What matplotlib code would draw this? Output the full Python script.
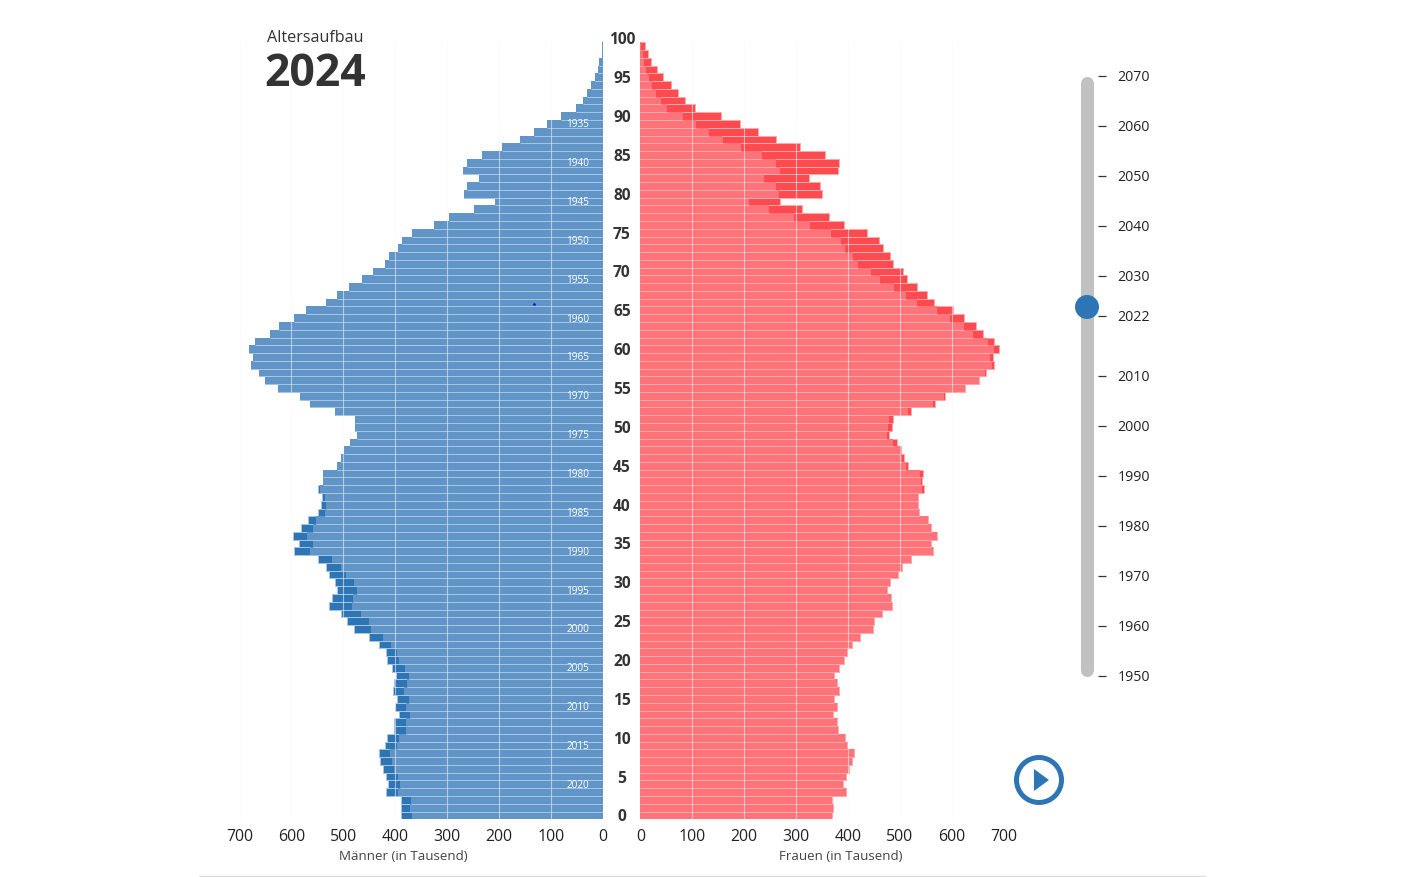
import numpy as np
import matplotlib
matplotlib.use("Agg")
import matplotlib.pyplot as plt
from matplotlib.patches import Circle, Polygon

plt.rcParams['font.family'] = ['Open Sans', 'DejaVu Sans']

W, H = 1403, 877

# age 99 first, age 0 last
ages = list(range(99, -1, -1))

# lighter front layer
men_light = [1, 2, 6.5, 10, 15, 22, 30, 38, 51, 80,
             107, 132, 159, 195, 233, 261, 269, 238, 261, 267,
             207, 249, 296, 326, 367, 387, 394, 412, 419, 443,
             464, 489, 512, 533, 572, 596, 624, 641, 670, 682,
             675, 678, 663, 651, 626, 583, 565, 516, 478, 477,
             474, 487, 499, 505, 513, 540, 540, 545, 535, 534,
             536, 552, 559, 571, 559, 565, 522, 504, 495, 480,
             474, 482, 484, 466, 450, 447, 423, 408, 397, 392,
             381, 373, 378, 383, 373, 379, 371, 379, 380, 392,
             397, 411, 407, 403, 395, 390, 395, 369, 371, 368]
# darker back layer
men_dark = [1, 2, 6.5, 10, 15, 22, 30, 38, 51, 80,
            107, 132, 159, 195, 233, 261, 269, 238, 261, 267,
            207, 249, 296, 326, 367, 387, 394, 412, 419, 443,
            464, 489, 512, 533, 572, 596, 624, 641, 670, 682,
            675, 678, 663, 651, 626, 583, 565, 516, 478, 477,
            474, 487, 499, 505, 513, 540, 540, 548, 541, 543,
            548, 568, 582, 597, 585, 596, 549, 533, 528, 516,
            512, 521, 527, 505, 493, 479, 450, 431, 417, 416,
            406, 398, 403, 405, 396, 401, 392, 402, 402, 416,
            420, 432, 429, 424, 417, 413, 417, 389, 389, 388]
women_light = [1, 4.5, 7, 11, 17, 23, 30, 39, 51, 82,
               107, 132, 160, 194, 234, 261, 270, 239, 261, 268,
               209, 249, 297, 327, 367, 386, 395, 411, 420, 444,
               463, 490, 513, 534, 572, 597, 624, 642, 671, 682,
               675, 678, 664, 653, 626, 585, 565, 517, 479, 477,
               475, 488, 501, 504, 513, 540, 541, 544, 536, 535,
               537, 554, 560, 572, 560, 565, 522, 505, 496, 481,
               475, 483, 485, 466, 451, 448, 424, 409, 398, 393,
               383, 374, 379, 384, 374, 380, 372, 380, 381, 394,
               398, 412, 408, 403, 396, 391, 396, 370, 371, 369]
women_dark = [10, 15, 21, 32, 44, 60, 73, 87, 105, 155,
              193, 227, 262, 307, 356, 383, 382, 325, 346, 351,
              270, 311, 364, 392, 438, 461, 467, 482, 487, 506,
              515, 533, 552, 567, 603, 624, 648, 660, 682, 691,
              679, 682, 667, 653, 626, 588, 569, 522, 487, 485,
              479, 494, 503, 509, 517, 545, 543, 546, 536, 535,
              537, 554, 560, 572, 560, 565, 522, 505, 496, 481,
              475, 483, 485, 466, 451, 448, 424, 409, 398, 393,
              383, 374, 379, 384, 374, 380, 372, 380, 381, 394,
              398, 412, 408, 403, 396, 391, 396, 370, 371, 369]

age_labels = list(range(0, 101, 5))
birth_years = list(range(1935, 2021, 5))
grid_ticks = [100, 200, 300, 400, 500, 600, 700]
x_ticks = [0, 100, 200, 300, 400, 500, 600, 700]
slider_years = [1950, 1960, 1970, 1980, 1990, 2000, 2010, 2022, 2030, 2040, 2050, 2060, 2070]
current_year = 2024

BLUE_LIGHT = '#6195c8'
BLUE_DARK = '#2e75b6'
BLUE_EDGE = '#a6c3e0'
RED_LIGHT = '#ff737a'
RED_DARK = '#ff4b50'
RED_EDGE = '#ffa9ac'
TEXT = '#333333'


def px_axes(left, top, right, bottom):
    return fig.add_axes([left / W, 1 - bottom / H, (right - left) / W, (bottom - top) / H])


def pyramid(ax, dark, light, c_dark, c_light, c_edge, xlim):
    ax.barh(ages, dark, height=1, color=c_dark, edgecolor=c_edge, linewidth=0.72)
    ax.barh(ages, light, height=1, color=c_light, linewidth=0)
    # row separators across the light part, no pale line where it ends
    seps = ax.hlines([a - 0.5 for a in ages], 0, light, color=c_edge, lw=0.72, zorder=2.5)
    seps.set_snap(True)
    ax.set_xlim(*xlim)
    ax.set_ylim(-0.5, 99.5)
    for t in grid_ticks:
        ax.axvline(t, color='#f8f8f8', alpha=0.55, lw=0.8, zorder=3)
    for s in ax.spines.values():
        s.set_visible(False)
    ax.patch.set_alpha(0)
    ax.set_yticks([])
    ax.set_xticks(x_ticks)
    ax.tick_params(axis='x', length=0, pad=7, labelsize=11.4, labelcolor='#222222')


fig = plt.figure(figsize=(W / 100, H / 100), dpi=100, facecolor='white')

ax_m = px_axes(239.6, 42.3, 602.7, 819.3)
pyramid(ax_m, men_dark, men_light, BLUE_DARK, BLUE_LIGHT, BLUE_EDGE, (700, 0))
ax_f = px_axes(640.3, 42.3, 1003.4, 819.3)
pyramid(ax_f, women_dark, women_light, RED_DARK, RED_LIGHT, RED_EDGE, (0, 700))

# age labels sit in the gap between both sides
for a in age_labels:
    ax_m.text(-37, a - 0.25, str(a), ha='center', va='center', fontsize=11.2,
              fontweight='bold', color=TEXT, clip_on=False)
for y in birth_years:
    ax_m.text(48, current_year - y - 0.12, str(y), ha='center', va='center', fontsize=7.2,
              color='white', zorder=4)
ax_m.plot([132], [65.8], 'o', ms=1.8, color='#0000dd', mew=0, zorder=5)

fig.text(403 / W, 1 - 856 / H, 'Männer (in Tausend)', ha='center', va='center', fontsize=9.6, color='#444444')
fig.text(841 / W, 1 - 856 / H, 'Frauen (in Tausend)', ha='center', va='center', fontsize=9.6, color='#444444')
fig.text(315 / W, 1 - 38.5 / H, 'Altersaufbau', ha='center', va='center', fontsize=11.6, color=TEXT)
fig.text(315 / W, 1 - 74.5 / H, str(current_year), ha='center', va='center', fontsize=32, fontweight='bold', color=TEXT)

# year slider
ax_s = px_axes(1060, 76, 1160, 676)
ax_s.set_ylim(1950, 2070)
ax_s.set_xlim(1060, 1160)
ax_s.axis('off')
per_year = 600 / 120
ax_s.plot([1087, 1087], [1950 + 6.5 / per_year, 2070 - 6.5 / per_year], color='#c1c1c1',
          lw=9.4, solid_capstyle='round', clip_on=False)
for y in slider_years:
    ax_s.plot([1098, 1106], [y, y], color='#333333', lw=0.9, clip_on=False, solid_capstyle='butt')
    ax_s.text(1117.5, y - 0.35, str(y), ha='left', va='center', fontsize=10.2, color='#222222', clip_on=False)

# full figure layer in pixels for thumb, play button and rule
ax_o = fig.add_axes([0, 0, 1, 1])
ax_o.set_xlim(0, W)
ax_o.set_ylim(H, 0)
ax_o.axis('off')
ax_o.patch.set_alpha(0)
thumb_y = 76 + (2070 - current_year) * per_year + 1
ax_o.add_patch(Circle((1087, thumb_y), 12, fc=BLUE_DARK, ec='none'))
ax_o.add_patch(Circle((1039, 780), 22.5, fc='white', ec=BLUE_DARK, lw=3.6))
ax_o.add_patch(Polygon([(1034, 769), (1049, 780), (1034, 791)], closed=True, fc=BLUE_DARK, ec='none'))
ax_o.plot([199, 1205], [876, 876], color='#dcdcdc', lw=1)

fig.savefig('out.png', dpi=100)
